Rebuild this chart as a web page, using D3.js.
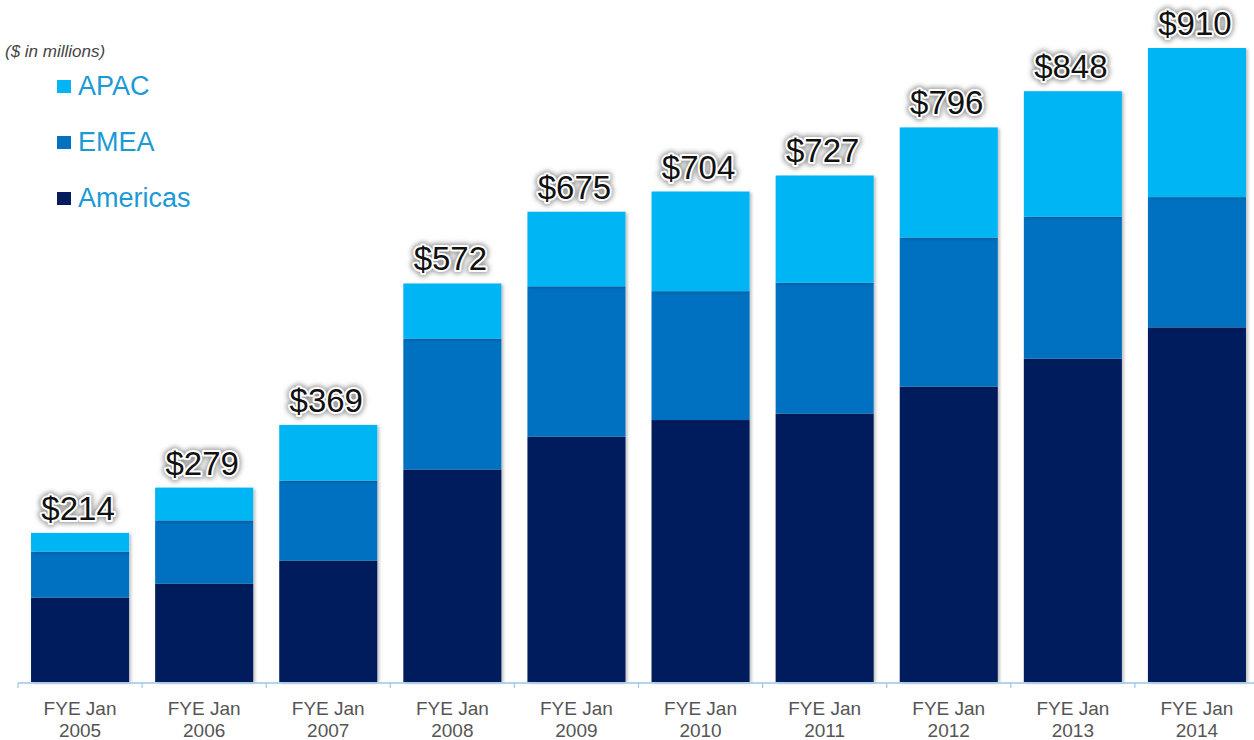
<!DOCTYPE html>
<html>
<head>
<meta charset="utf-8">
<script src="https://cdn.jsdelivr.net/npm/d3@7/dist/d3.min.js"></script>
<style>
  html, body { margin: 0; padding: 0; background: #fff; }
  svg { display: block; font-family: "Liberation Sans", Arial, Helvetica, sans-serif; }
</style>
</head>
<body>
<svg id="chart" width="1254" height="740"></svg>
<script>
const years = ["2005","2006","2007","2008","2009","2010","2011","2012","2013","2014"];
const categoryPrefix = "FYE Jan";
const americas = [121, 141, 174, 305, 352, 376, 385, 424, 464, 509];
const emea     = [ 66,  91, 115, 188, 216, 185, 188, 214, 204, 187];
const apac     = [ 27,  47,  80,  79, 107, 143, 154, 158, 180, 214];
const totals   = [214, 279, 369, 572, 675, 704, 727, 796, 848, 910];
const seriesNames = ["Americas", "EMEA", "APAC"];
const legendOrder = ["APAC", "EMEA", "Americas"];
const unitNote = "($ in millions)";

const colors = { "Americas": "#051d5d", "EMEA": "#0670c0", "APAC": "#03b5f4" };

const svg = d3.select("#chart");
const defs = svg.append("defs");
const sh = defs.append("filter").attr("id", "barShadow").attr("x", "-10%").attr("y", "-10%").attr("width", "130%").attr("height", "120%");
sh.append("feDropShadow").attr("dx", 2).attr("dy", 1).attr("stdDeviation", 1.5).attr("flood-color", "#000").attr("flood-opacity", 0.25);
const blur = defs.append("filter").attr("id", "glow").attr("x", "-20%").attr("y", "-40%").attr("width", "140%").attr("height", "180%");
blur.append("feGaussianBlur").attr("stdDeviation", 2.4);

const baseline = 682;
const x = d3.scaleBand().domain(years).range([18, 1259]).paddingInner(0.21).paddingOuter(0.105);
const y = d3.scaleLinear().domain([0, 910]).range([baseline, 48]);

const rows = years.map((yr, i) => ({ year: yr, Americas: americas[i], EMEA: emea[i], APAC: apac[i], total: totals[i] }));
const stacked = d3.stack().keys(seriesNames)(rows);

const g = svg.append("g");
stacked.forEach(layer => {
  g.append("g")
    .attr("fill", colors[layer.key])
    .attr("filter", "url(#barShadow)")
    .selectAll("rect")
    .data(layer)
    .join("rect")
    .attr("x", d => x(d.data.year))
    .attr("width", x.bandwidth())
    .attr("y", d => y(d[1]))
    .attr("height", d => y(d[0]) - y(d[1]));
});

// axis
const axis = d3.axisBottom(x).tickSize(0).tickFormat("");
const axG = svg.append("g").attr("transform", `translate(0,${baseline + 1})`).call(axis);
axG.select(".domain").attr("stroke", "#9cc6e6").attr("stroke-width", 1.5).attr("d", "M18,0H1254");
const edges = years.map(yr => x(yr) - x.step() * x.paddingInner() / 2);
axG.selectAll(".sep").data(edges).join("line").attr("class", "sep")
  .attr("x1", d => d).attr("x2", d => d).attr("y1", 0).attr("y2", 5)
  .attr("stroke", "#9cc6e6").attr("stroke-width", 1.2);

// x labels
const xl = svg.append("g").attr("fill", "#555").attr("font-size", 19).attr("text-anchor", "middle");
years.forEach(yr => {
  const cx = x(yr) + x.bandwidth() / 2;
  xl.append("text").attr("x", cx).attr("y", 715).text(categoryPrefix);
  xl.append("text").attr("x", cx).attr("y", 737).text(yr);
});

// total labels with glow
const lbl = svg.append("g").attr("font-size", 33).attr("text-anchor", "middle");
rows.forEach(d => {
  const cx = x(d.year) + x.bandwidth() / 2 - 2;
  const ty = y(d.total) - 13;
  const txt = "$" + d.total;
  lbl.append("text").attr("x", cx).attr("y", ty).text(txt)
    .attr("fill", "#aaa").attr("stroke", "#999").attr("stroke-width", 7).attr("stroke-linejoin", "round")
    .attr("filter", "url(#glow)");
  lbl.append("text").attr("x", cx).attr("y", ty).text(txt)
    .attr("fill", "#fff").attr("stroke", "#fff").attr("stroke-width", 4).attr("stroke-linejoin", "round");
  lbl.append("text").attr("x", cx).attr("y", ty).text(txt).attr("fill", "#111");
});

// legend
svg.append("text").attr("x", 5).attr("y", 57).attr("font-size", 17).attr("font-style", "italic").attr("fill", "#444").text(unitNote);
const lg = svg.append("g");
legendOrder.forEach((name, i) => {
  const by = 95 + i * 56;
  lg.append("rect").attr("x", 57).attr("y", by - 15).attr("width", 14).attr("height", 13).attr("fill", colors[name]);
  lg.append("text").attr("x", 78).attr("y", by).attr("font-size", 27).attr("fill", "#1b9ad5").text(name);
});
</script>
</body>
</html>
